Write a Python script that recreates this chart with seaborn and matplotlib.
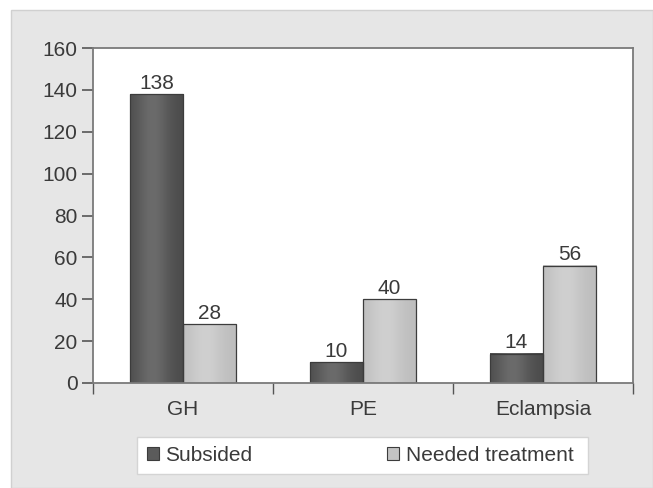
import pandas as pd
import numpy as np
import seaborn as sns
import matplotlib.pyplot as plt
from matplotlib.patches import Rectangle

# data
categories = ["GH", "PE", "Eclampsia"]
subsided = [138, 10, 14]
needed_treatment = [28, 40, 56]
series_names = ["Subsided", "Needed treatment"]
y_ticks = [0, 20, 40, 60, 80, 100, 120, 140, 160]

df = pd.DataFrame({
    "category": categories * 2,
    "count": subsided + needed_treatment,
    "group": [series_names[0]] * 3 + [series_names[1]] * 3,
})

sns.set_theme(style="white")
plt.rcParams["font.family"] = ["Liberation Sans", "DejaVu Sans"]
text_col = "#3a3a3a"

W, H = 653, 488
fig = plt.figure(figsize=(W / 100, H / 100), dpi=100, facecolor="white")

# grey panel behind everything
fig.patches.append(Rectangle((11 / W, 0), 1 - 11 / W, 1 - 10 / H, transform=fig.transFigure,
                             facecolor="#e6e6e6", edgecolor="#d0d0d0", lw=1.0, zorder=-10))

ax = fig.add_axes([93 / W, 1 - 383 / H, (633 - 93) / W, (383 - 48) / H])
ax.set_facecolor("white")

palette = {series_names[0]: "#5b5b5b", series_names[1]: "#c3c3c3"}
sns.barplot(data=df, x="category", y="count", hue="group", order=categories,
            hue_order=series_names, palette=palette, width=0.59, gap=0,
            edgecolor="#3c3c3c", linewidth=0.9, saturation=1, legend=False, ax=ax)

# soft shading across each bar, like the original
shades = [(0x4b, 0x6b), (0xbd, 0xd0)]
t = np.linspace(0, 1, 60)
profile = np.exp(-((t - 0.42) / 0.32) ** 2)
for cont, (lo, hi) in zip(ax.containers, shades):
    grad = (lo + (hi - lo) * profile) / 255.0
    img = np.dstack([grad, grad, grad])
    for bar in cont:
        x0, w, h = bar.get_x(), bar.get_width(), bar.get_height()
        ax.imshow(img, extent=[x0, x0 + w, 0, h], aspect="auto", zorder=1.5,
                  interpolation="bilinear")
        bar.set_facecolor("none")
        bar.set_zorder(2)

for cont in ax.containers:
    ax.bar_label(cont, fontsize=15, color=text_col, padding=1)

ax.set_xlim(-0.5, 2.5)
ax.set_ylim(0, 160)
ax.set_yticks(y_ticks)
ax.set_xlabel("")
ax.set_ylabel("")

ax.tick_params(axis="y", which="major", direction="out", length=8, width=1.2,
               color="#555555", labelsize=15, labelcolor=text_col, left=True, pad=3)
ax.tick_params(axis="x", which="major", length=0, labelsize=15, labelcolor=text_col, pad=12)
ax.set_xticks([-0.5, 0.5, 1.5, 2.5], minor=True)
ax.tick_params(axis="x", which="minor", direction="out", length=8, width=1.0,
               color="#555555", bottom=True)

for name, sp in ax.spines.items():
    sp.set_visible(True)
    sp.set_color("#7a7a7a")
    sp.set_linewidth(1.3)

# legend box
fig.patches.append(Rectangle((137 / W, 1 - 474 / H), (588 - 137) / W, (474 - 437) / H,
                             transform=fig.transFigure, facecolor="white",
                             edgecolor="#d4d4d4", lw=1.0, zorder=1))
handles = [Rectangle((0, 0), 1, 1, facecolor=palette[n], edgecolor="#3c3c3c", lw=0.8)
           for n in series_names]
leg = fig.legend(handles, series_names, loc="center left",
                 bbox_to_anchor=(132 / W, 1 - 455.5 / H), ncol=2, frameon=False,
                 fontsize=15, handlelength=0.6, handleheight=0.6, handletextpad=0.3,
                 columnspacing=6.45, borderpad=0.2)
leg.set_zorder(5)
for t in leg.get_texts():
    t.set_color(text_col)

plt.savefig("out.png", dpi=100, facecolor=fig.get_facecolor())
